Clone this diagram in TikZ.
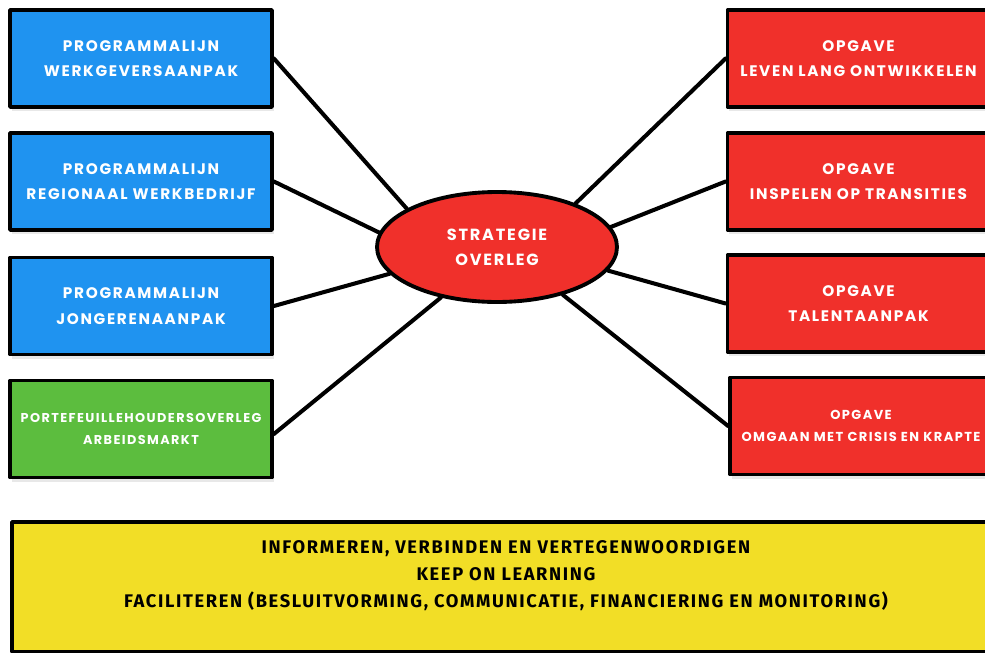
\documentclass[tikz,border=0pt]{standalone}
\usepackage{fontspec}
\usepackage{xcolor}
\usepackage{tikz}
\usetikzlibrary{shapes.geometric,shadows}
\newfontfamily\comic{Poppins}[LetterSpace=11]
\newfontfamily\basisfont{Fira Sans}[LetterSpace=9]
\definecolor{lijnblauw}{HTML}{1F93F0}
\definecolor{opgaverood}{HTML}{F0302B}
\definecolor{pfgroen}{HTML}{5CBD3E}
\definecolor{basisgeel}{HTML}{F2DE26}
\tikzset{
  vak/.style={draw=black, line width=2.2pt, minimum width=5.24cm, minimum height=1.94cm,
    align=center, text=white, inner sep=0pt,
    font=\comic\bfseries\fontsize{8.7}{14.6}\selectfont,
    drop shadow={shadow xshift=1pt, shadow yshift=-2.5pt, opacity=0.18}},
  lijn/.style={vak, fill=lijnblauw},
  opgave/.style={vak, fill=opgaverood},
  portef/.style={vak, fill=pfgroen, font=\comic\bfseries\fontsize{7.3}{12.8}\selectfont},
  kern/.style={ellipse, draw=black, line width=2.2pt, fill=opgaverood, text=white,
    minimum width=4.8cm, minimum height=2.2cm, align=center, inner sep=0pt,
    font=\comic\bfseries\fontsize{9.2}{14}\selectfont},
  basis/.style={draw=black, line width=2.2pt, fill=basisgeel, minimum width=19.76cm,
    minimum height=2.6cm, inner sep=0pt,
    drop shadow={shadow xshift=1pt, shadow yshift=-2.5pt, opacity=0.18}},
  basistekst/.style={align=center, text=black, font=\basisfont\bfseries\fontsize{10.4}{15.3}\selectfont},
  verbind/.style={draw=black, line width=2.3pt}
}

\begin{document}
\begin{tikzpicture}[x=0.02cm, y=-0.02cm, line cap=round, line join=round]
  \useasboundingbox (0,0) rectangle (985,653);
  \clip (0,0) rectangle (985,653);
  % programmalijnen links
  \node[lijn] (lijn1) at (141,58.5) {PROGRAMMALIJN\\WERKGEVERSAANPAK};
  \node[lijn] (lijn2) at (141,181.5) {PROGRAMMALIJN\\REGIONAAL WERKBEDRIJF};
  \node[lijn] (lijn3) at (141,306) {PROGRAMMALIJN\\JONGERENAANPAK};
  \node[portef] (pfo) at (141,429) {PORTEFEUILLEHOUDERSOVERLEG\\ARBEIDSMARKT};
  % opgaven rechts
  \node[opgave] (opg1) at (858.5,58.5) {OPGAVE\\LEVEN LANG ONTWIKKELEN};
  \node[opgave] (opg2) at (858.5,181.5) {OPGAVE\\INSPELEN OP TRANSITIES};
  \node[opgave] (opg3) at (858.5,303.5) {OPGAVE\\TALENTAANPAK};
  \node[opgave, font=\comic\bfseries\fontsize{7.4}{12.8}\selectfont] (opg4) at (861,426) {OPGAVE\\OMGAAN MET CRISIS EN KRAPTE};
  % midden
  \node[kern] (overleg) at (497,247) {STRATEGIE\\OVERLEG};
  \draw[verbind] (lijn1.east) -- (overleg.157);
  \draw[verbind] (lijn2.east) -- (overleg.173);
  \draw[verbind] (lijn3.east) -- (overleg.194);
  \draw[verbind] ([yshift=-0.1cm]pfo.east) -- (overleg.222);
  \draw[verbind] (opg1.west) -- (overleg.29);
  \draw[verbind] (opg2.west) -- (overleg.10);
  \draw[verbind] (opg3.west) -- (overleg.-12);
  \draw[verbind] (opg4.west) -- (overleg.-36);
  % basis onderaan
  \node[basis] (fund) at (506,587) {};
  \node[basistekst] (fundtxt) at (506,576) {INFORMEREN, VERBINDEN EN VERTEGENWOORDIGEN\\KEEP ON LEARNING\\FACILITEREN (BESLUITVORMING, COMMUNICATIE, FINANCIERING EN MONITORING)};
\end{tikzpicture}
\end{document}
